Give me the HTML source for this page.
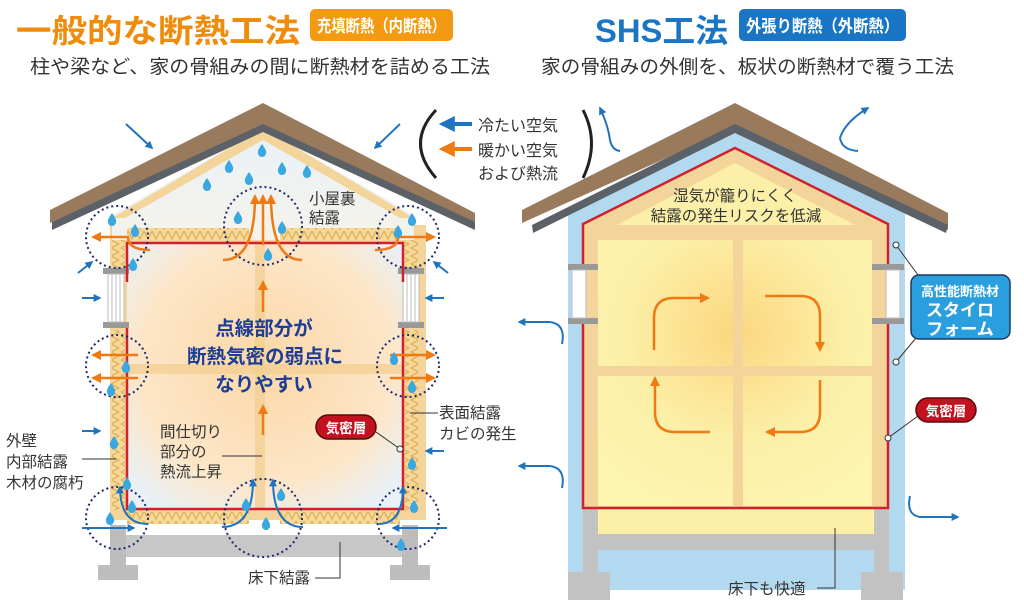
<!DOCTYPE html>
<html><head><meta charset="utf-8"><style>
html,body{margin:0;padding:0;background:#fff;}
svg{display:block;font-family:"Liberation Sans","Noto Sans CJK JP",sans-serif;}
</style></head><body>
<svg width="1024" height="614" viewBox="0 0 1024 614" xmlns="http://www.w3.org/2000/svg">
<defs>
<radialGradient id="warm" cx="0.5" cy="0.45" r="0.65">
<stop offset="0" stop-color="#fbd7a6"/><stop offset="0.7" stop-color="#fde6c8"/><stop offset="1" stop-color="#e9f0f6"/></radialGradient>
<linearGradient id="attic" x1="0" y1="0" x2="0" y2="1"><stop offset="0" stop-color="#e8f1f8"/><stop offset="1" stop-color="#f6f2ea"/></linearGradient>
<radialGradient id="yel" cx="0.5" cy="0.35" r="0.7"><stop offset="0" stop-color="#fbd77f"/><stop offset="0.6" stop-color="#fcf0a8"/><stop offset="1" stop-color="#fdf4b0"/></radialGradient>
<pattern id="ins" width="8" height="10" patternUnits="userSpaceOnUse"><rect width="8" height="10" fill="#f6d99a"/><path d="M0 1 L4 9 L8 1" stroke="#d9a84c" stroke-width="1" fill="none"/></pattern>
<pattern id="insv" width="10" height="8" patternUnits="userSpaceOnUse"><rect width="10" height="8" fill="#f6d99a"/><path d="M1 0 L9 4 L1 8" stroke="#d9a84c" stroke-width="1" fill="none"/></pattern>
<marker id="ab" viewBox="0 0 10 10" refX="8" refY="5" markerWidth="4" markerHeight="4" orient="auto"><path d="M0 0 L10 5 L0 10z" fill="#1f74c0"/></marker>
<marker id="ao" viewBox="0 0 10 10" refX="8" refY="5" markerWidth="4" markerHeight="4" orient="auto"><path d="M0 0 L10 5 L0 10z" fill="#ef7a13"/></marker>
<g id="drop"><path d="M0 -6 Q5 1 4 3 A4 4 0 0 1 -4 3 Q-5 1 0 -6z" fill="#3aa8e0"/></g>
</defs>

<!-- Headers -->
<text x="16" y="42" font-size="32" font-weight="bold" fill="#f08c0c" textLength="284" lengthAdjust="spacingAndGlyphs">一般的な断熱工法</text>
<rect x="310" y="9" width="143" height="32" rx="5" fill="#f39a12"/>
<text x="317" y="32" font-size="17" font-weight="bold" fill="#fff" textLength="129" lengthAdjust="spacingAndGlyphs">充填断熱（内断熱）</text>
<text x="30" y="73" font-size="19" fill="#333" textLength="460" lengthAdjust="spacingAndGlyphs">柱や梁など、家の骨組みの間に断熱材を詰める工法</text>
<text x="595" y="42" font-size="32" font-weight="bold" fill="#1a76c4" textLength="133" lengthAdjust="spacingAndGlyphs">SHS工法</text>
<rect x="739" y="9" width="167" height="32" rx="5" fill="#1a76c4"/>
<text x="746" y="32" font-size="17" font-weight="bold" fill="#fff" textLength="153" lengthAdjust="spacingAndGlyphs">外張り断熱（外断熱）</text>
<text x="541" y="73" font-size="19" fill="#333" textLength="413" lengthAdjust="spacingAndGlyphs">家の骨組みの外側を、板状の断熱材で覆う工法</text>

<!-- Legend -->
<path d="M436 110 Q405 143 436 178" stroke="#222" stroke-width="3" fill="none"/>
<path d="M583 110 Q600 143 583 178" stroke="#222" stroke-width="3" fill="none"/>
<line x1="472" y1="124" x2="442" y2="124" stroke="#1f74c0" stroke-width="4" marker-end="url(#ab)"/>
<line x1="472" y1="149" x2="442" y2="149" stroke="#ef7a13" stroke-width="4" marker-end="url(#ao)"/>
<text x="478" y="131" font-size="16" fill="#333">冷たい空気</text>
<text x="478" y="156" font-size="16" fill="#333">暖かい空気</text>
<text x="478" y="179" font-size="16" fill="#333">および熱流</text>

<!-- ===== LEFT HOUSE ===== -->
<rect x="110" y="225" width="316" height="295" fill="#f4d49a"/>
<polygon points="263,128 112,215 112,240 414,240 414,215" fill="url(#attic)"/>
<polygon points="263,128 263,140 125,218 112,218" fill="#f3d59b"/>
<polygon points="263,128 263,140 400,218 414,218" fill="#f3d59b"/>
<rect x="127" y="244" width="276" height="266" fill="url(#warm)"/>
<rect x="255" y="244" width="10" height="266" fill="#f3cf93" opacity="0.8"/>
<rect x="127" y="364" width="276" height="10" fill="#f3cf93" opacity="0.8"/>
<rect x="127" y="228" width="122" height="12" fill="url(#ins)"/>
<rect x="280" y="228" width="120" height="12" fill="url(#ins)"/>
<rect x="127" y="512" width="122" height="12" fill="url(#ins)"/>
<rect x="280" y="512" width="120" height="12" fill="url(#ins)"/>
<rect x="112" y="240" width="13" height="40" fill="url(#insv)"/>
<rect x="405" y="240" width="13" height="40" fill="url(#insv)"/>
<rect x="112" y="330" width="13" height="180" fill="url(#insv)"/>
<rect x="405" y="330" width="13" height="180" fill="url(#insv)"/>
<rect x="103" y="268" width="26" height="6" fill="#999"/><rect x="103" y="322" width="26" height="6" fill="#999"/>
<rect x="108" y="274" width="16" height="48" fill="#fff" stroke="#bbb"/>
<path d="M112 274V322M116 274V322M120 274V322" stroke="#bbb"/>
<rect x="398" y="268" width="26" height="6" fill="#999"/><rect x="398" y="322" width="26" height="6" fill="#999"/>
<rect x="403" y="274" width="16" height="48" fill="#fff" stroke="#bbb"/>
<path d="M407 274V322M411 274V322M415 274V322" stroke="#bbb"/>
<path d="M127 282 V243 H403 V282 M127 328 V509 H403 V328" stroke="#d2202c" stroke-width="2.5" fill="none"/>
<rect x="125" y="535" width="285" height="22" fill="#c7c7c7"/>
<rect x="110" y="525" width="16" height="45" fill="#bdbdbd"/>
<rect x="98" y="565" width="40" height="15" fill="#bdbdbd"/>
<rect x="402" y="525" width="16" height="45" fill="#bdbdbd"/>
<rect x="390" y="565" width="40" height="15" fill="#bdbdbd"/>
<polygon points="263,103 475,213 475,228 263,128 50,223 50,210" fill="#9a7a5c"/>
<polygon points="263,124 475,222 475,230 263,132 52,230 52,222" fill="#5b6166"/>
<g fill="none" stroke="#1d2a6b" stroke-width="2" stroke-dasharray="2,3">
<circle cx="117" cy="237" r="31"/><circle cx="263" cy="226" r="39"/><circle cx="408" cy="237" r="31"/>
<circle cx="117" cy="366" r="31"/><circle cx="408" cy="366" r="31"/>
<circle cx="117" cy="518" r="31"/><circle cx="263" cy="518" r="39"/><circle cx="408" cy="518" r="31"/></g>
<g stroke="#ef7a13" stroke-width="2.5" fill="none" marker-end="url(#ao)">
<path d="M150 250 Q128 250 128 237 H93"/><path d="M375 250 Q398 250 398 237 H434"/>
<path d="M223 260 Q255 260 255 196"/><path d="M302 260 Q271 260 271 196"/><path d="M263 245 V196"/>
<path d="M263 312 V282"/><path d="M263 435 V406"/>
<path d="M138 355 H93"/><path d="M138 378 H93"/><path d="M390 355 H434"/><path d="M390 378 H434"/></g>
<g stroke="#1f74c0" stroke-width="2" fill="none" marker-end="url(#ab)">
<path d="M126 124 L152 148"/><path d="M400 124 L375 148"/>
<path d="M78 273 L92 262"/><path d="M448 273 L434 262"/>
<path d="M82 298 H100"/><path d="M444 298 H426"/>
<path d="M82 431 H100"/><path d="M444 451 H426"/>
<path d="M82 528 H134"/><path d="M447 528 H393"/>
<path d="M148 524 Q120 524 120 487"/><path d="M378 524 Q403 524 403 487"/>
<path d="M222 527 Q253 527 253 480"/><path d="M303 527 Q273 527 273 480"/></g>
<g>
<use href="#drop" x="262" y="150"/><use href="#drop" x="229" y="166"/><use href="#drop" x="249" y="178"/><use href="#drop" x="282" y="168"/><use href="#drop" x="307" y="171"/><use href="#drop" x="207" y="184"/>
<use href="#drop" x="112" y="219"/><use href="#drop" x="135" y="230"/><use href="#drop" x="133" y="264"/><use href="#drop" x="238" y="217"/><use href="#drop" x="282" y="227"/><use href="#drop" x="268" y="254"/>
<use href="#drop" x="412" y="219"/><use href="#drop" x="398" y="231"/>
<use href="#drop" x="126" y="366"/><use href="#drop" x="111" y="389"/><use href="#drop" x="394" y="358"/><use href="#drop" x="412" y="386"/>
<use href="#drop" x="114" y="442"/><use href="#drop" x="412" y="463"/><use href="#drop" x="127" y="483"/><use href="#drop" x="132" y="506"/><use href="#drop" x="110" y="518"/>
<use href="#drop" x="246" y="504"/><use href="#drop" x="281" y="494"/><use href="#drop" x="266" y="523"/><use href="#drop" x="414" y="506"/><use href="#drop" x="401" y="544"/></g>
<text x="309" y="204" font-size="15.5" fill="#333">小屋裏</text><text x="309" y="223" font-size="15.5" fill="#333">結露</text>
<g font-size="19.5" font-weight="bold" fill="#1e3e95" text-anchor="middle">
<text x="264" y="335">点線部分が</text><text x="265" y="363">断熱気密の弱点に</text><text x="264" y="391">なりやすい</text></g>
<g font-size="15.5" fill="#333">
<text x="160" y="437">間仕切り</text><text x="160" y="457">部分の</text><text x="160" y="477">熱流上昇</text>
<text x="6" y="446">外壁</text><text x="6" y="467">内部結露</text><text x="6" y="488">木材の腐朽</text>
<text x="439" y="418">表面結露</text><text x="439" y="439">カビの発生</text>
<text x="248" y="583">床下結露</text></g>
<path d="M222 456 H262 M82 459 H116 M438 413 H410 M315 578 H340 V542" stroke="#333" stroke-width="1" fill="none"/>
<rect x="316" y="415" width="60" height="24" rx="12" fill="#c3121f" stroke="#5a0a0a" stroke-width="1.5"/>
<text x="346" y="433" font-size="13.5" font-weight="bold" fill="#fff" text-anchor="middle">気密層</text>
<line x1="376" y1="432" x2="400" y2="449" stroke="#333"/><circle cx="400" cy="449" r="3" fill="#fff" stroke="#333"/>

<!-- ===== RIGHT HOUSE ===== -->
<polygon points="735,118 568,213 568,590 905,590 905,213" fill="#b3d9f0"/>
<polygon points="735,148 583,224 583,508 888,508 888,224" fill="#f3d59b"/>
<polygon points="735,163 617,225 855,225" fill="#fcf0a8"/>
<rect x="598" y="240" width="274" height="266" fill="url(#yel)"/>
<rect x="733" y="240" width="10" height="266" fill="#f3d59b"/>
<rect x="598" y="366" width="274" height="10" fill="#f3d59b"/>
<rect x="583" y="229" width="305" height="11" fill="#f3d59b"/>
<rect x="598" y="508" width="276" height="26" fill="#fcf0a8"/>
<rect x="598" y="534" width="276" height="16" fill="#c2c2c2"/>
<rect x="583" y="508" width="15" height="64" fill="#c2c2c2"/><rect x="874" y="508" width="15" height="64" fill="#c2c2c2"/>
<rect x="568" y="572" width="42" height="28" fill="#c2c2c2"/><rect x="861" y="572" width="42" height="28" fill="#c2c2c2"/>
<polygon points="735,148 583,224 583,508 888,508 888,224" fill="none" stroke="#d2202c" stroke-width="2.5"/>
<rect x="568" y="264" width="30" height="6" fill="#999"/><rect x="568" y="318" width="30" height="6" fill="#999"/>
<rect x="572" y="270" width="14" height="48" fill="#fff" stroke="#bbb"/>
<rect x="872" y="264" width="32" height="6" fill="#999"/><rect x="872" y="318" width="32" height="6" fill="#999"/>
<rect x="886" y="270" width="14" height="48" fill="#fff" stroke="#bbb"/>
<polygon points="735,103 948,213 948,230 735,127 522,223 522,210" fill="#9a7a5c"/>
<polygon points="735,124 948,225 946,233 735,133 533,233 532,225" fill="#5b6166"/>
<text x="735" y="201" font-size="15.5" fill="#333" text-anchor="middle">湿気が籠りにくく</text>
<text x="736" y="221" font-size="15.5" fill="#333" text-anchor="middle">結露の発生リスクを低減</text>
<g stroke="#ef7a13" stroke-width="2.5" fill="none" marker-end="url(#ao)">
<path d="M654 350 V318 Q654 298 674 298 H708"/>
<path d="M765 296 H800 Q820 296 820 316 V350"/>
<path d="M820 380 V412 Q820 432 800 432 H767"/>
<path d="M710 432 H675 Q655 432 655 412 V378"/></g>
<g stroke="#1f74c0" stroke-width="2" fill="none" marker-end="url(#ab)">
<path d="M620 151 Q612 150 610 140 Q608 125 600 108"/>
<path d="M858 151 Q842 150 840 138 Q845 122 868 108"/>
<path d="M562 344 Q566 324 550 322 H519"/>
<path d="M562 488 Q566 468 550 466 H519"/>
<path d="M910 496 Q906 515 920 517 H958"/></g>
<rect x="911" y="275" width="99" height="64" rx="8" fill="#2a9fe0" stroke="#1d3a5e" stroke-width="1.5"/>
<text x="960" y="296" font-size="13" font-weight="bold" fill="#fff" text-anchor="middle">高性能断熱材</text>
<text x="960" y="316" font-size="17" font-weight="bold" fill="#fff" text-anchor="middle">スタイロ</text>
<text x="960" y="335" font-size="17" font-weight="bold" fill="#fff" text-anchor="middle">フォーム</text>
<path d="M896 245 L918 275 M896 362 L916 338" stroke="#333"/>
<circle cx="896" cy="245" r="3" fill="#fff" stroke="#333"/><circle cx="896" cy="362" r="3" fill="#fff" stroke="#333"/>
<rect x="916" y="398" width="60" height="24" rx="12" fill="#c3121f" stroke="#5a0a0a" stroke-width="1.5"/>
<text x="946" y="416" font-size="13.5" font-weight="bold" fill="#fff" text-anchor="middle">気密層</text>
<line x1="918" y1="416" x2="888" y2="438" stroke="#333"/><circle cx="888" cy="438" r="3" fill="#fff" stroke="#333"/>
<text x="728" y="594" font-size="15.5" fill="#333">床下も快適</text>
<path d="M817 588 H835 V528" stroke="#333" fill="none"/>
</svg>
</body></html>
